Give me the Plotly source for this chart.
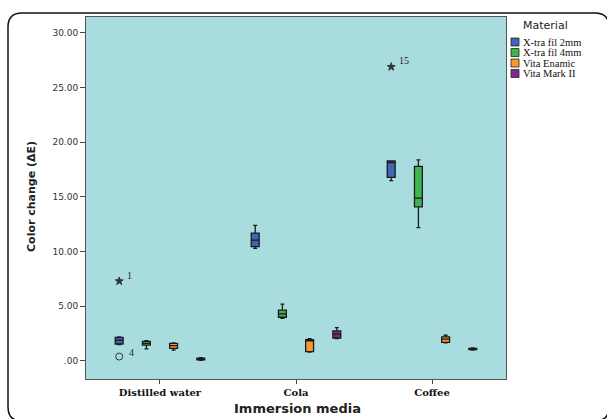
import plotly.graph_objects as go

# ---------------- data ----------------
media = ["Distilled water", "Cola", "Coffee"]
materials = ["X-tra fil 2mm", "X-tra fil 4mm", "Vita Enamic", "Vita Mark II"]
colors = ["#3f66b3", "#3fb54f", "#f49a2e", "#7d2a8e"]

# box statistics per material, one value per immersion medium
lower_fence = {
    "X-tra fil 2mm": [1.50, 10.30, 16.50],
    "X-tra fil 4mm": [1.10, 3.90, 12.20],
    "Vita Enamic":   [1.00, 0.80, 1.65],
    "Vita Mark II":  [0.05, 2.05, 1.00],
}
q1 = {
    "X-tra fil 2mm": [1.55, 10.45, 16.80],
    "X-tra fil 4mm": [1.45, 4.00, 14.10],
    "Vita Enamic":   [1.15, 0.85, 1.70],
    "Vita Mark II":  [0.10, 2.10, 1.05],
}
median = {
    "X-tra fil 2mm": [1.90, 11.05, 18.15],
    "X-tra fil 4mm": [1.60, 4.30, 14.90],
    "Vita Enamic":   [1.40, 1.85, 2.00],
    "Vita Mark II":  [0.15, 2.45, 1.10],
}
q3 = {
    "X-tra fil 2mm": [2.15, 11.70, 18.30],
    "X-tra fil 4mm": [1.80, 4.65, 17.80],
    "Vita Enamic":   [1.60, 1.95, 2.20],
    "Vita Mark II":  [0.25, 2.75, 1.15],
}
upper_fence = {
    "X-tra fil 2mm": [2.20, 12.40, 18.30],
    "X-tra fil 4mm": [1.85, 5.20, 18.40],
    "Vita Enamic":   [1.65, 2.05, 2.35],
    "Vita Mark II":  [0.30, 3.05, 1.20],
}

# outliers: (medium index, material, value, case label, kind)
outlier_medium = [0, 0, 2]
outlier_material = ["X-tra fil 2mm", "X-tra fil 2mm", "X-tra fil 2mm"]
outlier_value = [7.30, 0.40, 26.90]
outlier_label = ["1", "4", "15"]
outlier_kind = ["extreme", "mild", "extreme"]

y_tickvals = [0, 5, 10, 15, 20, 25, 30]
y_ticktext = [".00", "5.00", "10.00", "15.00", "20.00", "25.00", "30.00"]

# ---------------- layout geometry ----------------
W, H = 607, 419
L, R, T, B = 86, 506, 17, 379
offsets = [-0.3, -0.1, 0.1, 0.3]


def px(x):
    return (x - L) / (R - L)


def py(y):
    return (B - y) / (B - T)


fig = go.Figure()

for m, mat in enumerate(materials):
    xs = [i + offsets[m] for i in range(len(media))]
    fig.add_trace(go.Box(
        name=mat,
        x=xs,
        q1=q1[mat], median=median[mat], q3=q3[mat],
        lowerfence=lower_fence[mat], upperfence=upper_fence[mat],
        width=0.058,
        whiskerwidth=0.5,
        fillcolor=colors[m],
        line=dict(color="#1a1a1a", width=1.3),
        boxpoints=False,
        hoverinfo="skip",
        showlegend=False,
    ))

for kind, symbol in [("extreme", "star"), ("mild", "circle-open")]:
    xs, ys, ts = [], [], []
    for i in range(len(outlier_value)):
        if outlier_kind[i] != kind:
            continue
        m = materials.index(outlier_material[i])
        xs.append(outlier_medium[i] + offsets[m])
        ys.append(outlier_value[i])
        ts.append(outlier_label[i])
    fig.add_trace(go.Scatter(
        x=xs, y=ys, mode="markers",
        marker=dict(symbol=symbol, size=6 if kind == "extreme" else 7,
                    color="#333333", line=dict(color="#333333", width=1)),
        showlegend=False, hoverinfo="skip",
    ))
    for x, y, t in zip(xs, ys, ts):
        fig.add_annotation(
            x=x, y=y, xref="x", yref="y", text=t, showarrow=False,
            xshift=6 if kind == "extreme" else 8,
            yshift=6 if kind == "extreme" else 4,
            xanchor="left", yanchor="middle",
            font=dict(family="Liberation Serif", size=10, color="#222"),
        )

shapes = []
annotations = []

# outer rounded frame (right and bottom edges run past the picture)
x0, x1, y0, y1, r = px(8), px(609), py(13), py(421), 14
rx, ry = r / (R - L), r / (B - T)
path = (f"M {x0+rx},{y0} L {x1-rx},{y0} Q {x1},{y0} {x1},{y0-ry} "
        f"L {x1},{y1+ry} Q {x1},{y1} {x1-rx},{y1} "
        f"L {x0+rx},{y1} Q {x0},{y1} {x0},{y1+ry} "
        f"L {x0},{y0-ry} Q {x0},{y0} {x0+rx},{y0} Z")
shapes.append(dict(type="path", xref="paper", yref="paper", path=path,
                   line=dict(color="#111", width=1.5), layer="below"))

# manual legend
annotations.append(dict(x=px(545), y=py(26), xref="paper", yref="paper",
                        text="Material", showarrow=False,
                        xanchor="center", yanchor="middle",
                        font=dict(family="DejaVu Sans", size=11, color="#222")))
for m, mat in enumerate(materials):
    cy = 42 + 10.5 * m
    shapes.append(dict(type="rect", xref="paper", yref="paper",
                       x0=px(511), x1=px(519), y0=py(cy + 4), y1=py(cy - 4),
                       fillcolor=colors[m], line=dict(color="#222", width=0.8)))
    annotations.append(dict(x=px(521), y=py(cy), xref="paper", yref="paper",
                            text=mat, showarrow=False, xanchor="left",
                            yanchor="middle",
                            font=dict(family="Liberation Serif", size=10.5,
                                      color="#111")))

# axis titles
annotations.append(dict(x=px(32), y=py(197), xref="paper", yref="paper",
                        text="<b>Color change (ΔE)</b>", showarrow=False,
                        textangle=-90, xanchor="center", yanchor="middle",
                        font=dict(family="DejaVu Sans", size=11, color="#222")))
annotations.append(dict(x=px(297), y=py(408), xref="paper", yref="paper",
                        text="<b>Immersion media</b>", showarrow=False,
                        xanchor="center", yanchor="middle",
                        font=dict(family="DejaVu Sans", size=13, color="#222")))

fig.update_layout(
    width=W, height=H,
    margin=dict(l=L, r=W - R, t=T, b=H - B),
    paper_bgcolor="white",
    plot_bgcolor="#a9dcde",
    boxmode="overlay",
    showlegend=False,
    shapes=shapes,
    annotations=fig.layout.annotations + tuple(annotations),
    xaxis=dict(
        range=[-0.544, 2.544],
        tickvals=list(range(len(media))),
        ticktext=[f"<b>{m}</b>" for m in media],
        tickfont=dict(family="DejaVu Serif", size=10, color="#111"),
        ticks="outside", ticklen=4, tickcolor="#444",
        showline=True, linecolor="#555", linewidth=1, mirror=True,
        showgrid=False, zeroline=False,
    ),
    yaxis=dict(
        range=[-1.65, 31.46],
        tickvals=y_tickvals, ticktext=y_ticktext,
        tickfont=dict(family="DejaVu Sans", size=9, color="#333"),
        ticks="outside", ticklen=5, tickcolor="#444",
        showline=True, linecolor="#555", linewidth=1, mirror=True,
        showgrid=False, zeroline=False,
    ),
)

fig.write_html("out.html", config={"displayModeBar": False},
               post_script="document.body.style.margin='0';")
